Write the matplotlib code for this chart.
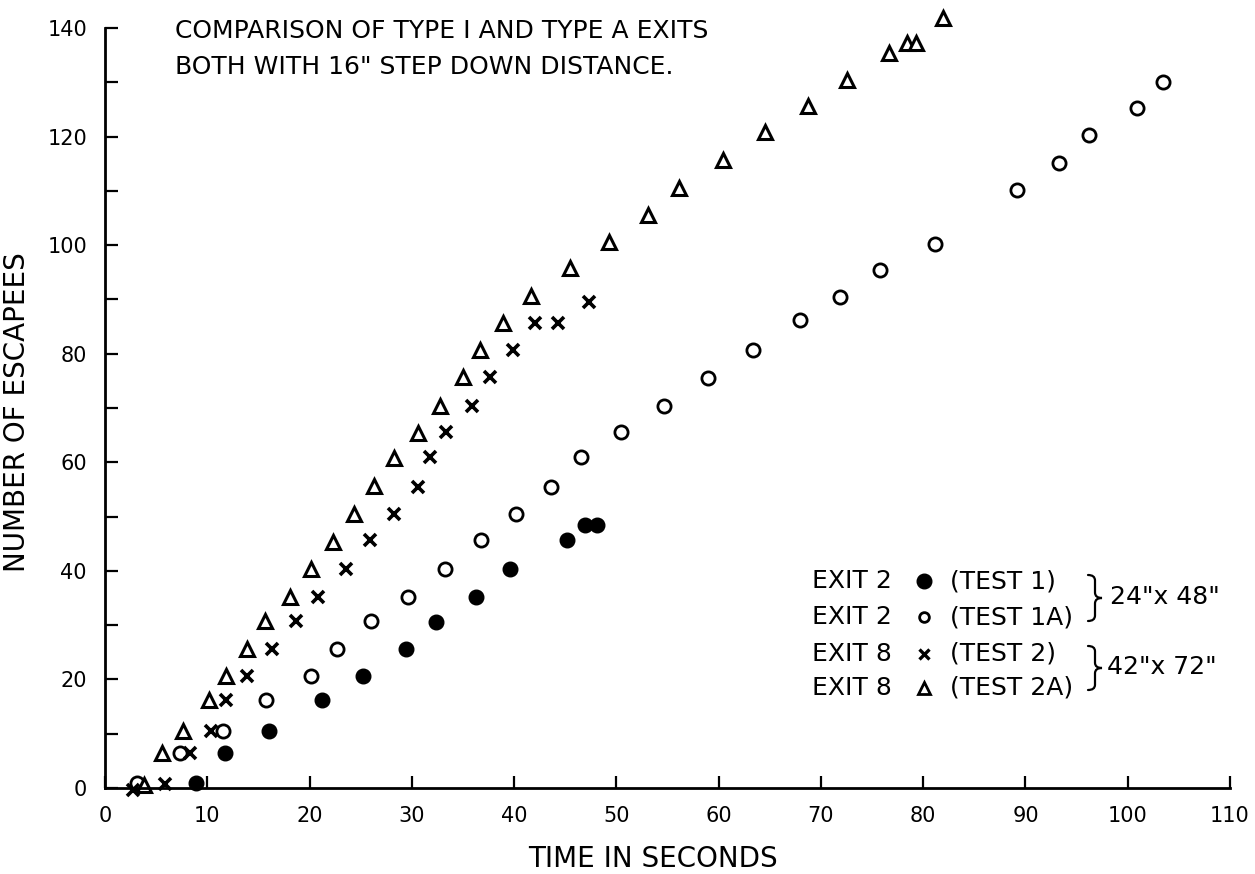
import numpy as np
from matplotlib import pyplot as plt
from matplotlib.path import Path
from matplotlib.patches import PathPatch

plt.rcParams['font.family'] = ['DejaVu Sans']

# test 1 - exit 2, filled circles
t1_x = [8.9, 11.7, 16.0, 21.2, 25.2, 29.4, 32.4, 36.3, 39.6, 45.2, 46.9, 48.1]
t1_y = [0.9, 6.5, 10.5, 16.2, 20.7, 25.6, 30.5, 35.1, 40.4, 45.7, 48.4, 48.4]

# test 1A - exit 2, open circles
t1a_x = [3.1, 7.3, 11.5, 15.7, 20.1, 22.7, 26.0, 29.6, 33.2, 36.8, 40.2, 43.6, 46.5,
         50.5, 54.7, 59.0, 63.4, 68.0, 71.9, 75.8, 81.2, 89.2, 93.3, 96.2, 100.9, 103.4]
t1a_y = [0.9, 6.5, 10.5, 16.2, 20.7, 25.6, 30.7, 35.1, 40.4, 45.7, 50.5, 55.5, 61.0,
         65.6, 70.4, 75.5, 80.7, 86.3, 90.4, 95.4, 100.2, 110.1, 115.2, 120.3, 125.3, 130.0]

# test 2 - exit 8, crosses
t2_x = [2.7, 5.9, 8.3, 10.4, 11.8, 13.9, 16.3, 18.7, 20.8, 23.6, 25.9, 28.3, 30.6,
        31.8, 33.3, 35.9, 37.6, 39.9, 42.0, 44.3, 47.3]
t2_y = [-0.4, 0.7, 6.4, 10.5, 16.2, 20.7, 25.6, 30.7, 35.1, 40.4, 45.7, 50.5, 55.5,
        61.0, 65.6, 70.4, 75.7, 80.7, 85.7, 85.7, 89.6]

# test 2A - exit 8, triangles
t2a_x = [3.8, 5.6, 7.6, 10.2, 11.8, 13.9, 15.6, 18.1, 20.1, 22.3, 24.3, 26.3, 28.3,
         30.6, 32.8, 35.0, 36.7, 38.9, 41.7, 45.5, 49.3, 53.1, 56.1, 60.4, 64.5,
         68.7, 72.6, 76.7, 78.4, 79.3, 81.9]
t2a_y = [0.5, 6.4, 10.5, 16.2, 20.7, 25.6, 30.7, 35.1, 40.4, 45.3, 50.5, 55.6, 60.8,
         65.4, 70.4, 75.7, 80.7, 85.7, 90.6, 95.8, 100.6, 105.6, 110.5, 115.7, 120.9,
         125.6, 130.4, 135.4, 137.3, 137.3, 141.8]

W, H = 1255, 874
TXT = 18

def fx(px):
    return px / W

def fy(py):
    return 1 - py / H

def brace(x, y0, y1, w):
    # right-pointing curly brace, pixel coords (y down)
    ym = (y0 + y1) / 2
    d = (y1 - y0) * 0.12
    h = x + w / 2
    pts = [(x, y0), (h, y0), (h, y0 + d), (h, ym - d), (h, ym), (x + w, ym),
           (h, ym), (h, ym + d), (h, y1 - d), (h, y1), (x, y1)]
    codes = [Path.MOVETO, Path.CURVE3, Path.CURVE3, Path.LINETO, Path.CURVE3, Path.CURVE3,
             Path.CURVE3, Path.CURVE3, Path.LINETO, Path.CURVE3, Path.CURVE3]
    verts = [(fx(a), fy(b)) for a, b in pts]
    fig.patches.append(PathPatch(Path(verts, codes), fill=False, lw=1.6,
                                 transform=fig.transFigure, capstyle='round'))

fig = plt.figure(figsize=(W/100, H/100), dpi=100)
ax = fig.add_axes([105/W, 1-788/H, 1125/W, 760/H])

ax.plot(t1_x, t1_y, 'o', color='black', ms=10.5, clip_on=False)
ax.plot(t1a_x, t1a_y, 'o', mfc='white', mec='black', mew=2, ms=9.5, clip_on=False)
ax.plot(t2_x, t2_y, 'x', color='black', mew=2.6, ms=8.5, clip_on=False)
ax.plot(t2a_x, t2a_y, '^', mfc='white', mec='black', mew=2.2, ms=10.5, clip_on=False)

ax.set_xlim(0, 110)
ax.set_ylim(0, 140)
ax.spines['top'].set_visible(False)
ax.spines['right'].set_visible(False)
ax.spines['left'].set_linewidth(2)
ax.spines['bottom'].set_linewidth(2)

ax.set_xticks(np.arange(0, 111, 10))
ax.set_yticks(np.arange(0, 141, 20))
ax.set_yticks(np.arange(10, 140, 20), minor=True)
ax.tick_params(which='both', direction='in', length=9, width=1.6, labelsize=15)
ax.tick_params(axis='y', pad=13)
ax.tick_params(axis='x', pad=13)

ax.set_xlabel('TIME IN SECONDS', fontsize=20)
ax.xaxis.set_label_coords(0.487, -0.075)
ax.set_ylabel('NUMBER OF ESCAPEES', fontsize=20)
ax.yaxis.set_label_coords(-0.066, 0.495)

fig.text(fx(175), fy(31), 'COMPARISON OF TYPE I AND TYPE A EXITS', fontsize=TXT, va='center')
fig.text(fx(175), fy(67), 'BOTH WITH 16" STEP DOWN DISTANCE.', fontsize=TXT, va='center')

# key
rows = [581, 617, 654, 688]
exits = ['EXIT 2', 'EXIT 2', 'EXIT 8', 'EXIT 8']
tests = ['(TEST 1)', '(TEST 1A)', '(TEST 2)', '(TEST 2A)']
for r, e, t in zip(rows, exits, tests):
    fig.text(fx(812), fy(r), e, fontsize=TXT, va='center')
    fig.text(fx(950), fy(r), t, fontsize=TXT, va='center')
mx = fx(924)
fig.lines.append(plt.Line2D([mx], [fy(rows[0])], marker='o', color='black', ms=10.5, transform=fig.transFigure))
fig.lines.append(plt.Line2D([mx], [fy(rows[1])], marker='o', mfc='white', mec='black', mew=2, ms=7, transform=fig.transFigure))
fig.lines.append(plt.Line2D([mx], [fy(rows[2])], marker='x', color='black', mew=2.4, ms=6.5, transform=fig.transFigure))
fig.lines.append(plt.Line2D([mx], [fy(rows[3])], marker='^', mfc='white', mec='black', mew=2, ms=9, transform=fig.transFigure))

brace(1088, 575, 621, 14)
fig.text(fx(1110), fy(597), '24"x 48"', fontsize=TXT, va='center')
brace(1088, 646, 690, 14)
fig.text(fx(1107), fy(667), '42"x 72"', fontsize=TXT, va='center')

fig.savefig('out.png', dpi=100)
